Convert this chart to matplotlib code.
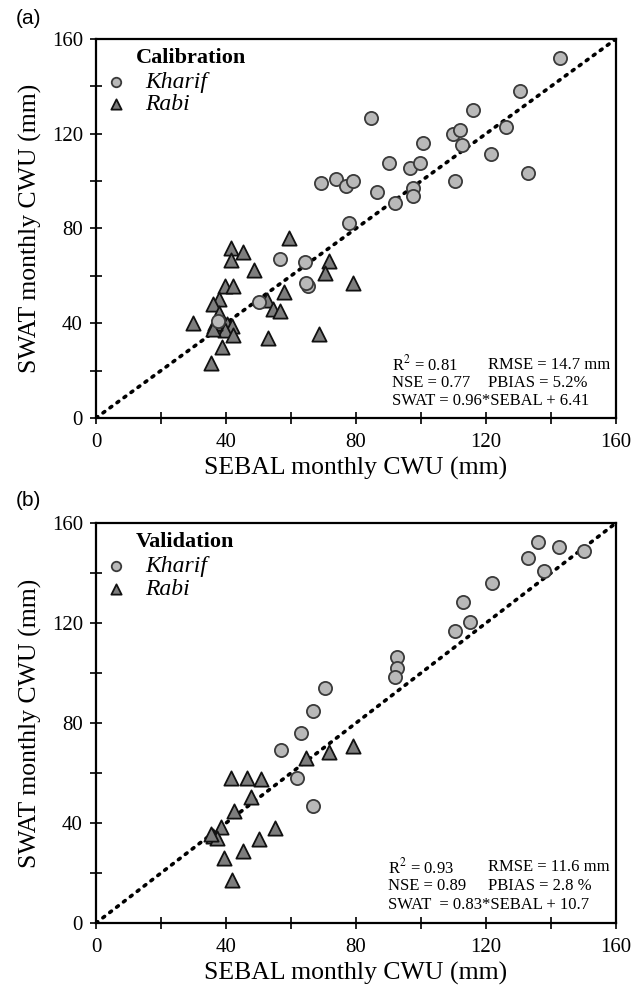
import numpy as np
import matplotlib
matplotlib.use("Agg")
import matplotlib.pyplot as plt
from matplotlib.ticker import MultipleLocator

plt.rcParams['font.family'] = ['Liberation Serif', 'DejaVu Serif']
plt.rcParams['mathtext.fontset'] = 'stix'

# calibration period (SEBAL x, SWAT y)
cal_kharif_x = [142.8, 130.5, 116.1, 84.6, 109.9, 112.0, 126.2, 112.5, 100.5, 90.2,
                96.6, 99.7, 121.5, 132.8, 110.5, 86.6, 97.6, 97.4, 92.0, 77.9,
                69.1, 73.8, 76.9, 79.0, 56.6, 64.3, 65.1, 64.6, 50.2, 37.5]
cal_kharif_y = [151.8, 138.2, 130.0, 126.5, 119.9, 121.6, 123.0, 115.2, 116.0, 107.8,
                105.7, 107.5, 111.3, 103.5, 100.2, 95.4, 97.0, 93.8, 90.6, 82.3,
                99.1, 100.9, 97.9, 100.2, 67.1, 65.7, 55.7, 57.0, 49.1, 40.9]
cal_rabi_x = [59.5, 41.6, 45.1, 41.6, 48.7, 71.6, 70.6, 79.0, 39.7, 42.2,
              57.9, 37.9, 35.9, 52.5, 54.4, 56.6, 37.9, 29.8, 36.3, 40.2,
              41.8, 39.7, 42.1, 52.8, 68.5, 38.9, 35.3, 36.6, 35.9]
cal_rabi_y = [75.9, 71.9, 69.9, 66.7, 62.5, 66.4, 61.1, 56.9, 55.8, 55.8,
              53.3, 50.1, 48.0, 49.8, 45.9, 45.2, 44.2, 40.2, 38.8, 39.6,
              38.8, 37.1, 35.0, 33.6, 35.5, 30.1, 23.1, 40.0, 37.6]

# validation period
val_kharif_x = [135.9, 142.6, 150.2, 132.8, 137.8, 121.8, 113.0, 115.1, 110.6, 92.5,
                92.5, 92.0, 70.5, 66.7, 63.0, 56.8, 61.8, 66.7]
val_kharif_y = [152.5, 150.3, 148.9, 146.1, 140.8, 136.1, 128.5, 120.3, 116.8, 106.3,
                102.1, 98.3, 93.9, 84.9, 75.9, 69.2, 57.9, 46.8]
val_rabi_x = [79.0, 71.6, 64.6, 41.5, 46.4, 50.8, 47.7, 42.6, 38.4, 36.1,
              37.1, 35.4, 55.1, 50.1, 45.3, 39.5, 41.8]
val_rabi_y = [70.8, 68.3, 65.9, 58.1, 58.1, 57.6, 50.5, 44.9, 38.5, 34.8,
              34.1, 35.6, 37.9, 33.6, 28.9, 25.9, 17.2]

cal_stats = ["R$^2$ = 0.81", "NSE = 0.77", "RMSE = 14.7 mm", "PBIAS = 5.2%",
             "SWAT = 0.96*SEBAL + 6.41"]
val_stats = ["R$^2$ = 0.93", "NSE = 0.89", "RMSE = 11.6 mm", "PBIAS = 2.8 %",
             "SWAT  = 0.83*SEBAL + 10.7"]

fig = plt.figure(figsize=(6.43, 9.89), dpi=100)
ax_a = fig.add_axes([0.1493, 0.5774, 0.8087, 0.3832])
ax_b = fig.add_axes([0.1493, 0.0667, 0.8087, 0.4045])


def panel(ax, kx, ky, rx, ry, title, stats, letter, sx, sy):
    ax.plot([0, 160], [0, 160], color='black', linewidth=2.6,
            linestyle=(0, (0.6, 1.8)), dash_capstyle='round', zorder=1)
    k = ax.scatter(kx, ky, s=90, marker='o', facecolor='#b9b9b9',
                   edgecolor='#3a3a3a', linewidth=1.3, zorder=3, label='Kharif')
    r = ax.scatter(rx, ry, s=105, marker='^', facecolor='#7d7d7d',
                   edgecolor='#111111', linewidth=1.3, zorder=2, label='Rabi')
    ax.set_xlim(0, 160)
    ax.set_ylim(0, 160)
    ax.xaxis.set_major_locator(MultipleLocator(40))
    ax.yaxis.set_major_locator(MultipleLocator(40))
    ax.xaxis.set_minor_locator(MultipleLocator(20))
    ax.yaxis.set_minor_locator(MultipleLocator(20))
    ax.tick_params(which='both', direction='inout', length=9, width=1.2,
                   labelsize=15, top=False, right=False)
    ax.tick_params(axis='x', pad=6)
    ax.tick_params(axis='y', pad=5)
    for sp in ax.spines.values():
        sp.set_linewidth(1.6)
    ax.set_xlabel("SEBAL monthly CWU (mm)", fontsize=18.5, labelpad=4)
    ax.set_ylabel("SWAT monthly CWU (mm)", fontsize=18.5, labelpad=7)
    ax.text(0.077, sy, title, transform=ax.transAxes, fontsize=16,
            fontweight='bold', va='center', ha='left')
    ax.legend(handles=[k, r], loc='upper left', bbox_to_anchor=(0.024, sy - 0.035),
              frameon=False, prop={'style': 'italic', 'size': 17},
              handlelength=0.6, handletextpad=0.95, labelspacing=0.05,
              borderpad=0, borderaxespad=0, markerscale=0.72)
    ax.text(sx, 0.14, stats[0], transform=ax.transAxes, fontsize=12, va='center')
    ax.text(sx, 0.093, stats[1], transform=ax.transAxes, fontsize=12, va='center')
    ax.text(0.754, 0.14, stats[2], transform=ax.transAxes, fontsize=12, va='center')
    ax.text(0.754, 0.093, stats[3], transform=ax.transAxes, fontsize=12, va='center')
    ax.text(sx, 0.045, stats[4], transform=ax.transAxes, fontsize=12, va='center')
    ax.text(-0.155, 1.055, letter, transform=ax.transAxes, fontsize=15,
            family='Liberation Sans', va='center', ha='left')


panel(ax_a, cal_kharif_x, cal_kharif_y, cal_rabi_x, cal_rabi_y,
      "Calibration", cal_stats, "(a)", 0.569, 0.95)
panel(ax_b, val_kharif_x, val_kharif_y, val_rabi_x, val_rabi_y,
      "Validation", val_stats, "(b)", 0.562, 0.953)

fig.savefig("out.png", dpi=100)
